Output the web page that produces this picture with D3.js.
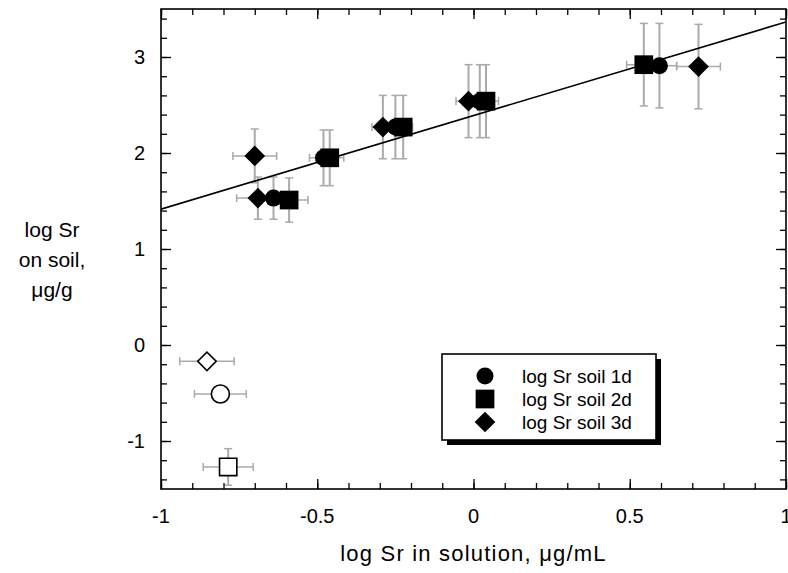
<!DOCTYPE html>
<html>
<head>
<meta charset="utf-8">
<script src="https://cdn.jsdelivr.net/npm/d3@7"></script>
<style>
  body { margin: 0; background: #fff; }
  svg text { font-family: "Liberation Sans", Arial, sans-serif; fill: #000; }
</style>
</head>
<body>
<div id="chart"></div>
<script>
// series values: x, y, x error, y error
const day1 = [
  { x: -0.64, y: 1.53, ex: 0.05, ey: 0.22 },
  { x: -0.48, y: 1.95, ex: 0.045, ey: 0.29 },
  { x: -0.25, y: 2.27, ex: 0.03, ey: 0.33 },
  { x: 0.02, y: 2.54, ex: 0.04, ey: 0.38 },
  { x: 0.595, y: 2.91, ex: 0.055, ey: 0.44 }
];
const day2 = [
  { x: -0.59, y: 1.51, ex: 0.06, ey: 0.23 },
  { x: -0.46, y: 1.95, ex: 0.045, ey: 0.29 },
  { x: -0.225, y: 2.27, ex: 0.03, ey: 0.33 },
  { x: 0.04, y: 2.54, ex: 0.04, ey: 0.38 },
  { x: 0.545, y: 2.92, ex: 0.055, ey: 0.43 }
];
const day3 = [
  { x: -0.70, y: 1.97, ex: 0.07, ey: 0.28 },
  { x: -0.69, y: 1.53, ex: 0.068, ey: 0.22 },
  { x: -0.29, y: 2.27, ex: 0.035, ey: 0.33 },
  { x: -0.016, y: 2.54, ex: 0.04, ey: 0.38 },
  { x: 0.72, y: 2.90, ex: 0.07, ey: 0.44 }
];
// open symbols (outliers)
const openPts = [
  { x: -0.853, y: -0.17, ex: 0.087, ey: 0, shape: "diamond" },
  { x: -0.81, y: -0.51, ex: 0.083, ey: 0, shape: "circle" },
  { x: -0.785, y: -1.27, ex: 0.08, ey: 0.19, shape: "square" }
];
// fitted line end points
const fitLine = [ { x: -1, y: 1.415 }, { x: 1, y: 3.365 } ];

const xTicks = [-1, -0.5, 0, 0.5, 1];
const yTicks = [-1, 0, 1, 2, 3];
const legendLabels = ["log Sr soil 1d", "log Sr soil 2d", "log Sr soil 3d"];

const W = 788, H = 573;
const box = { left: 161, right: 786, top: 9, bottom: 489 };

const x = d3.scaleLinear().domain([-1, 1]).range([box.left, box.right]);
const y = d3.scaleLinear().domain([-1.5, 3.5]).range([box.bottom, box.top]);

const svg = d3.select("#chart").append("svg")
    .attr("width", W)
    .attr("height", H);

svg.append("defs").append("clipPath").attr("id", "plotclip")
  .append("rect")
    .attr("x", box.left).attr("y", box.top)
    .attr("width", box.right - box.left).attr("height", box.bottom - box.top);

// symbol generators
const shapes = {
  circle: d3.symbol().type(d3.symbolCircle),
  square: d3.symbol().type(d3.symbolSquare),
  diamond: d3.symbol().type(d3.symbolSquare)
};
function drawMark(g, shape, size, filled) {
  const p = g.append("path")
      .attr("d", shapes[shape].size(size)())
      .attr("fill", filled ? "#000" : "#fff")
      .attr("stroke", "#000")
      .attr("stroke-width", filled ? 0 : 1.6);
  if (shape == "diamond") p.attr("transform", "rotate(45)");
  return p;
}
const sizes = { circle: 227, square: 350, diamond: 215 };
const openSizes = { circle: 255, square: 300, diamond: 170 };

const plot = svg.append("g").attr("clip-path", "url(#plotclip)");

// error bars
const allPts = day1.concat(day2, day3, openPts);
const cap = 4;
const eb = plot.append("g")
    .attr("stroke", "#aaa")
    .attr("fill", "none");
allPts.forEach(d => {
  if (d.ey > 0) {
    eb.append("line").attr("stroke-width", 2)
      .attr("x1", x(d.x)).attr("x2", x(d.x))
      .attr("y1", y(d.y - d.ey)).attr("y2", y(d.y + d.ey));
    [d.y - d.ey, d.y + d.ey].forEach(v => {
      eb.append("line").attr("stroke-width", 1.5)
        .attr("x1", x(d.x) - cap).attr("x2", x(d.x) + cap)
        .attr("y1", y(v)).attr("y2", y(v));
    });
  }
  if (d.ex > 0) {
    eb.append("line").attr("stroke-width", 1.5)
      .attr("x1", x(d.x - d.ex)).attr("x2", x(d.x + d.ex))
      .attr("y1", y(d.y)).attr("y2", y(d.y));
    [d.x - d.ex, d.x + d.ex].forEach(v => {
      eb.append("line").attr("stroke-width", 1.5)
        .attr("x1", x(v)).attr("x2", x(v))
        .attr("y1", y(d.y) - cap).attr("y2", y(d.y) + cap);
    });
  }
});

// regression line
plot.append("path")
    .datum(fitLine)
    .attr("fill", "none")
    .attr("stroke", "#000")
    .attr("stroke-width", 1.6)
    .attr("d", d3.line().x(d => x(d.x)).y(d => y(d.y)));

// markers
[[day1, "circle"], [day2, "square"], [day3, "diamond"]].forEach(([data, shape]) => {
  data.forEach(d => {
    const g = plot.append("g").attr("transform", "translate(" + x(d.x) + "," + y(d.y) + ")");
    drawMark(g, shape, sizes[shape], true);
  });
});
openPts.forEach(d => {
  const g = plot.append("g").attr("transform", "translate(" + x(d.x) + "," + y(d.y) + ")");
  drawMark(g, d.shape, openSizes[d.shape], false);
});

// axes: ticks inside on all four sides
const minorX = d3.range(-10, 11).map(i => i / 10);
const minorY = d3.range(-7, 18).map(i => i / 5);
const axes = svg.append("g");
axes.append("g").attr("transform", "translate(0," + box.bottom + ")")
    .call(d3.axisBottom(x).tickValues(minorX).tickSize(-6).tickFormat(""));
axes.append("g").attr("transform", "translate(0," + box.bottom + ")")
    .call(d3.axisBottom(x).tickValues(xTicks).tickSize(-10).tickFormat(""));
axes.append("g").attr("transform", "translate(0," + box.top + ")")
    .call(d3.axisTop(x).tickValues(minorX).tickSize(-6).tickFormat(""));
axes.append("g").attr("transform", "translate(0," + box.top + ")")
    .call(d3.axisTop(x).tickValues(xTicks).tickSize(-10).tickFormat(""));
axes.append("g").attr("transform", "translate(" + box.left + ",0)")
    .call(d3.axisLeft(y).tickValues(minorY).tickSize(-6).tickFormat(""));
axes.append("g").attr("transform", "translate(" + box.left + ",0)")
    .call(d3.axisLeft(y).tickValues(yTicks).tickSize(-10).tickFormat(""));
axes.append("g").attr("transform", "translate(" + box.right + ",0)")
    .call(d3.axisRight(y).tickValues(minorY).tickSize(-6).tickFormat(""));
axes.append("g").attr("transform", "translate(" + box.right + ",0)")
    .call(d3.axisRight(y).tickValues(yTicks).tickSize(-10).tickFormat(""));
axes.selectAll(".domain").remove();
axes.selectAll(".tick line").attr("stroke", "#000").attr("stroke-width", 1.3);

// frame
svg.append("rect")
    .attr("x", box.left).attr("y", box.top)
    .attr("width", box.right - box.left).attr("height", box.bottom - box.top)
    .attr("fill", "none").attr("stroke", "#000").attr("stroke-width", 1.6);

// tick labels
svg.append("g").selectAll("text").data(xTicks).join("text")
    .attr("x", d => x(d)).attr("y", 523)
    .attr("text-anchor", "middle")
    .style("font-size", "20px")
    .text(d => d);
svg.append("g").selectAll("text").data(yTicks).join("text")
    .attr("x", 145).attr("y", d => y(d)).attr("dy", "0.35em")
    .attr("text-anchor", "end")
    .style("font-size", "20px")
    .text(d => d);

// axis titles
svg.append("text")
    .attr("x", x(0)).attr("y", 561)
    .attr("text-anchor", "middle")
    .style("font-size", "22px")
    .style("letter-spacing", "1.2px")
    .text("log Sr in solution,  \u03bcg/mL");
svg.append("text")
    .attr("text-anchor", "middle")
    .style("font-size", "21px")
    .selectAll("tspan").data(["log Sr", "on soil,", "\u03bcg/g"]).join("tspan")
    .attr("x", 52).attr("y", (d, i) => 237 + i * 30)
    .text(d => d);

// legend with drop shadow
const lg = svg.append("g").attr("transform", "translate(442,354)");
lg.append("rect").attr("x", 5).attr("y", 5).attr("width", 214).attr("height", 86).attr("fill", "#000");
lg.append("rect").attr("width", 214).attr("height", 86)
    .attr("fill", "#fff").attr("stroke", "#000").attr("stroke-width", 1.6);
["circle", "square", "diamond"].forEach((shape, i) => {
  const g = lg.append("g").attr("transform", "translate(43," + (22 + i * 23) + ")");
  drawMark(g, shape, sizes[shape], true);
  lg.append("text")
      .attr("x", 80).attr("y", 22 + i * 23).attr("dy", "0.35em")
      .style("font-size", "19px")
      .text(legendLabels[i]);
});
</script>
</body>
</html>
